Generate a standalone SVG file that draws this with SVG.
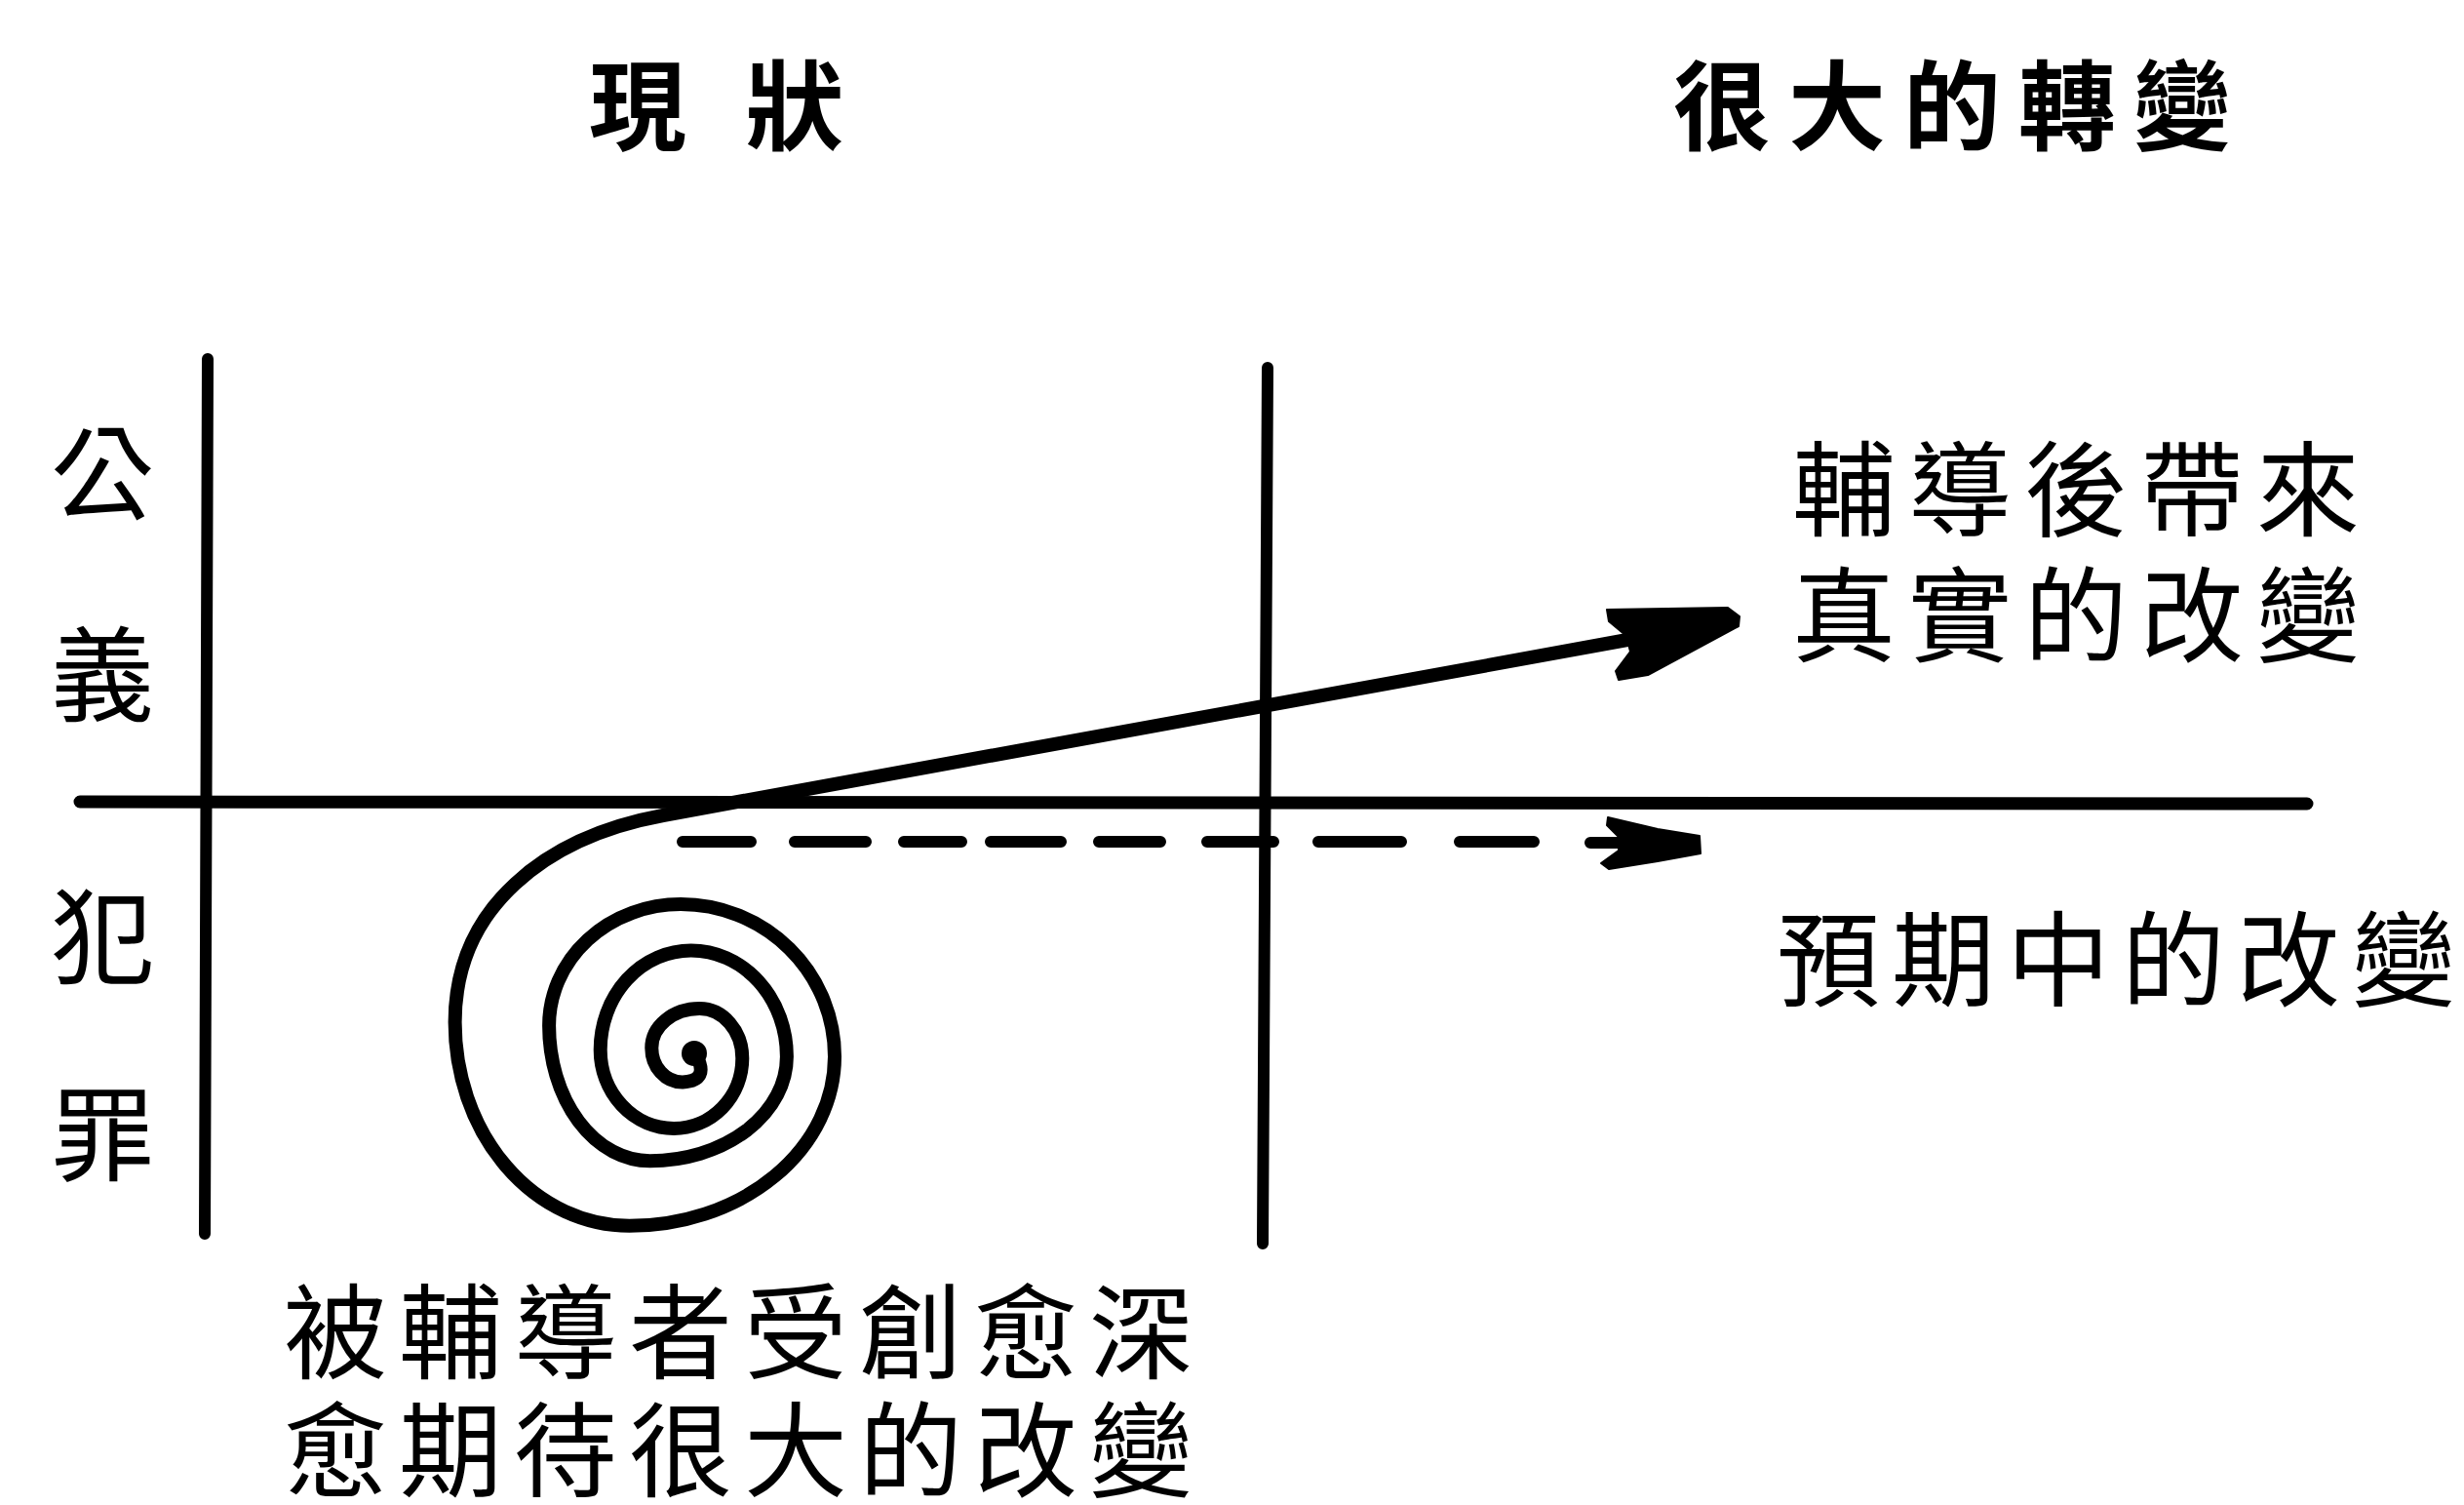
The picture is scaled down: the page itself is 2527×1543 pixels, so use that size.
<svg xmlns="http://www.w3.org/2000/svg" width="2527" height="1543" viewBox="0 0 2527 1543">
<style>
.ax{stroke:#000;stroke-width:12;stroke-linecap:round;fill:none}
.sp{stroke:#000;stroke-width:14;stroke-linecap:round;stroke-linejoin:round;fill:none}
.ds{stroke:#000;stroke-width:12;stroke-linecap:round;fill:none}
.hd{fill:#000;stroke:#000;stroke-width:2;stroke-linejoin:round}
.tt{font-family:"Noto Sans CJK TC","Noto Sans CJK SC",sans-serif;font-weight:700;font-size:100px;fill:#000}
.lb{font-family:"Noto Sans CJK TC","Noto Sans CJK SC",sans-serif;font-weight:400;font-size:106px;fill:#000}
</style>
<rect width="2527" height="1543" fill="#fff"/>
<g id="axes">
<line class="ax" x1="213" y1="368" x2="210" y2="1265"/>
<line class="ax" x1="1300" y1="377" x2="1295" y2="1275"/>
<line class="ax" x1="82" y1="822" x2="2366" y2="824" style="stroke-width:13"/>
</g>
<g id="titles">
<text id="t-now" class="tt" x="604" y="146" word-spacing="38">現 狀</text>
<text id="t-big" class="tt" x="1716" y="146" letter-spacing="18">很大的轉變</text>
</g>
<g id="side-labels">
<text id="l-gong" class="lb" x="105" y="525" text-anchor="middle">公</text>
<text id="l-yi" class="lb" x="105" y="731" text-anchor="middle">義</text>
<text id="l-fan" class="lb" x="105" y="1000" text-anchor="middle">犯</text>
<text id="l-zui" class="lb" x="105" y="1202" text-anchor="middle">罪</text>
</g>
<g id="real-change">
<text class="lb" x="1838" y="541" letter-spacing="13">輔導後帶來</text>
<text class="lb" x="1838" y="670" letter-spacing="13">真實的改變</text>
</g>
<g id="expected-change">
<text class="lb" x="1822" y="1023" letter-spacing="12">預期中的改變</text>
</g>
<g id="trauma">
<text class="lb" x="291" y="1405" letter-spacing="12">被輔導者受創愈深</text>
<text class="lb" x="291" y="1526" letter-spacing="12">愈期待很大的改變</text>
</g>
<g id="connectors">
<circle cx="712" cy="1080" r="13" fill="#000"/>
<path class="sp" d="M 714 1082 Q 728 1108 700 1109.5 A 31.7 35.1 0 0 1 668.3 1074.4 A 49.1 40.3 0 0 1 717.4 1034.1 A 43.9 50.9 0 0 1 761.3 1085 A 70.2 71.9 0 0 1 691.1 1156.9 A 75.4 80.7 0 0 1 615.7 1076.2 A 93 101.7 0 0 1 708.7 974.5 A 98.2 108.7 0 0 1 806.9 1083.2 A 140.3 107 0 0 1 666.6 1190.2 A 103.5 138.6 0 0 1 563.1 1051.6 A 135 124.5 0 0 1 698.1 927.1 A 157.9 156.1 0 0 1 856 1083.2 A 210.5 173.6 0 0 1 645.5 1256.8 A 178.9 208.7 0 0 1 466.6 1048.1 C 466.6 930 560 858 680 836 L 1680 654"/>
<path class="sp" d="M 680 836 L 1680 654" style="stroke-width:12"/>
<path class="hd" d="M 1648 625 L 1772 623 L 1784 632 L 1783 642 L 1690 692 L 1660 697 L 1657 688 L 1672 668 L 1668 652 L 1650 637 Z"/>
<path class="ds" d="M 700 863 H 770 M 815 863 H 888 M 927 863 H 986 M 1016 863 H 1088 M 1127 863 H 1190 M 1238 863 H 1306 M 1352 863 H 1437 M 1497 863 H 1573 M 1631 864 H 1662"/>
<path class="hd" d="M 1649 838 L 1700 850 L 1743 857 L 1744 875 L 1700 883 L 1650 891 L 1642 885 L 1660 872 L 1660 858 L 1648 846 Z"/>
</g>
</svg>
